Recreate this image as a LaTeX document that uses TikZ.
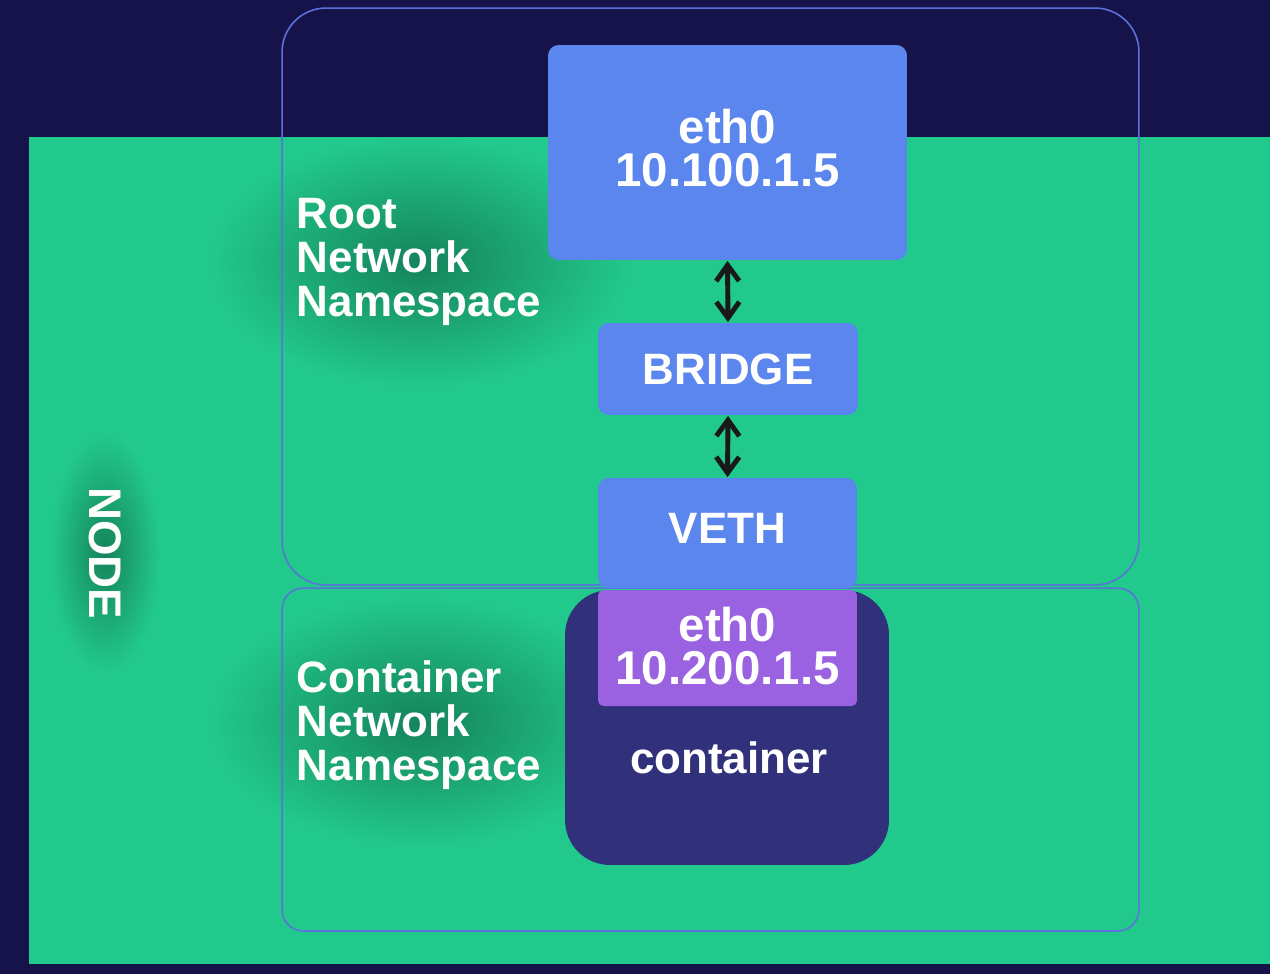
\documentclass[tikz,border=0pt]{standalone}
\usepackage{fontspec}
\setmainfont{Liberation Sans}
\usetikzlibrary{%
  arrows.meta,%
  shapes,%
  positioning,% wg. " of "
  calc
}
\definecolor{bgnavy}{HTML}{16134A}
\definecolor{nodegreen}{HTML}{22C98C}
\definecolor{glowgreen}{HTML}{15835B}
\definecolor{ifblue}{HTML}{5B86EE}
\definecolor{nsline}{HTML}{5A72DA}
\definecolor{ctrnavy}{HTML}{31307A}
\definecolor{ifpurple}{HTML}{9A62E0}

\begin{document}
\begin{tikzpicture}
  [
  x=0.02cm, y=-0.02cm,
  line width=1pt, >={Straight Barb[length=3.2mm,width=4.6mm]},
  iface/.style={rectangle, fill=ifblue, text=white, rounded corners=6pt, inner sep=0pt, align=center, font=\fontsize{25}{25}\selectfont\bfseries},
  nsbox/.style={rectangle, draw=nsline, line width=0.9pt, inner sep=0pt},
  nslabel/.style={text=white, align=left, inner sep=0pt, anchor=west, font=\fontsize{25}{25}\selectfont\bfseries},
  glow/.style={inner color=glowgreen, outer color=nodegreen}
  ]

\useasboundingbox (0,0) rectangle (1270,974);
\fill[bgnavy] (0,0) rectangle (1270,974);
\fill[nodegreen] (29,137) rectangle (1275,964);

\begin{scope}
  \clip (29,137) rectangle (1275,964);
  \shade[glow] (420,262) ellipse (210 and 125);
  \shade[glow] (420,722) ellipse (210 and 125);
  \shade[glow] (105,553) ellipse (55 and 120);
\end{scope}

\node[nsbox, rounded corners=25pt, minimum width=17.14cm, minimum height=11.54cm] (rootns) at (710.5,296.5) {};
\node[nsbox, rounded corners=12pt, minimum width=17.14cm, minimum height=6.86cm] (ctrns) at (710.5,759.5) {};

\node[nslabel] (lblroot) at (296,262) {Root\\Network\\Namespace};
\node[nslabel] (lblctr) at (296,725) {Container\\Network\\Namespace};
\node[text=white, rotate=-90, inner sep=0pt, font=\fontsize{26}{26}\selectfont\bfseries] (lblnode) at (105,553) {NODE};

\node[iface, minimum width=7.18cm, minimum height=4.3cm, font=\fontsize{27}{24.5}\selectfont\bfseries] (ethhost) at (727.5,152.5) {\raisebox{5pt}{eth0}\\\raisebox{5pt}{10.100.1.5}};
\node[iface, minimum width=5.2cm, minimum height=1.84cm] (bridge) at (728,369) {BRIDGE};
\node[iface, minimum width=5.18cm, minimum height=2.2cm] (veth) at (727.5,533) {\raisebox{5pt}{VETH}};

\node[rectangle, fill=ctrnavy, rounded corners=0.9cm, minimum width=6.48cm, minimum height=5.5cm, inner sep=0pt] (ctr) at (727,727.5) {};
\node[text=white, inner sep=0pt, font=\fontsize{25}{25}\selectfont\bfseries] (ctrtext) at (729,758) {container};
\node[iface, fill=ifpurple, rounded corners=3pt, minimum width=5.18cm, minimum height=2.32cm, font=\fontsize{27}{24.5}\selectfont\bfseries] (ethctr) at (727.5,648) {\raisebox{3pt}{eth0}\\\raisebox{3pt}{10.200.1.5}};

\foreach \a/\b in {ethhost/bridge, bridge/veth} {
  \draw[<->, line width=2.8pt, black!90] (\a.south) -- (\b.north);
}
\end{tikzpicture}
\end{document}
